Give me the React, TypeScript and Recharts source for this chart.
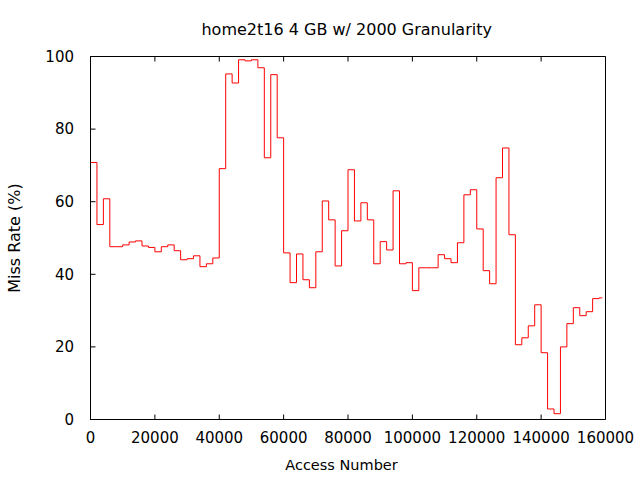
import { Line, LineChart, XAxis, YAxis } from "recharts";

// access number at the start of each 2000-access window (last entry closes the final step)
const accessNumbers = [
  0, 2000, 4000, 6000, 8000, 10000, 12000, 14000, 16000, 18000,
  20000, 22000, 24000, 26000, 28000, 30000, 32000, 34000, 36000, 38000,
  40000, 42000, 44000, 46000, 48000, 50000, 52000, 54000, 56000, 58000,
  60000, 62000, 64000, 66000, 68000, 70000, 72000, 74000, 76000, 78000,
  80000, 82000, 84000, 86000, 88000, 90000, 92000, 94000, 96000, 98000,
  100000, 102000, 104000, 106000, 108000, 110000, 112000, 114000, 116000, 118000,
  120000, 122000, 124000, 126000, 128000, 130000, 132000, 134000, 136000, 138000,
  140000, 142000, 144000, 146000, 148000, 150000, 152000, 154000, 156000, 158000,
  159000
];

// miss rate (%) per window
const missRates = [
  70.8, 53.7, 60.8, 47.6, 47.6, 48.1, 48.9, 49.2, 47.8, 47.4,
  46.2, 47.6, 48.1, 46.5, 44.0, 44.3, 45.1, 42.1, 42.9, 44.5,
  69.1, 95.2, 92.7, 99.1, 98.8, 99.1, 96.9, 72.1, 95.0, 77.6,
  45.9, 37.7, 45.6, 38.5, 36.3, 46.2, 60.2, 55.0, 42.3, 52.0,
  68.8, 54.7, 59.7, 55.0, 42.9, 49.0, 46.7, 63.0, 42.9, 43.2,
  35.5, 41.8, 41.8, 41.8, 45.4, 44.3, 43.2, 48.7, 61.9, 63.3,
  52.5, 41.0, 37.4, 66.6, 74.8, 50.9, 20.6, 22.5, 25.8, 31.6,
  18.4, 2.9, 1.6, 20.0, 26.4, 30.8, 28.6, 29.7, 33.3, 33.5,
  33.5
];

const xTicks = [0, 20000, 40000, 60000, 80000, 100000, 120000, 140000, 160000];
const yTicks = [0, 20, 40, 60, 80, 100];

const data = accessNumbers.map((x, i) => ({ x, rate: missRates[i] }));

const font = "'DejaVu Sans', sans-serif";
const tickStyle = { fill: "#000", fontSize: 15, fontFamily: font };
// mirrored axes only need their tick marks, no labels
const noLabel = () => <g />;

export default function App() {
  return (
    <div style={{ position: "absolute", left: 0, top: 0, width: 640, height: 480, background: "#fff" }}>
      <LineChart
        width={640}
        height={480}
        data={data}
        margin={{ top: 55.5, right: 33.5, bottom: 30.5, left: 0 }}
      >
        <XAxis
          dataKey="x"
          type="number"
          domain={[0, 160000]}
          ticks={xTicks}
          interval={0}
          height={30}
          stroke="#000"
          tickSize={-5}
          tickMargin={17.8}
          tick={tickStyle}
        />
        <XAxis
          xAxisId="top"
          dataKey="x"
          type="number"
          orientation="top"
          domain={[0, 160000]}
          ticks={xTicks}
          interval={0}
          height={1}
          stroke="#000"
          tickSize={-5}
          tick={noLabel}
        />
        <YAxis
          type="number"
          domain={[0, 100]}
          ticks={yTicks}
          interval={0}
          width={90.5}
          stroke="#000"
          tickSize={-5}
          tickMargin={21.5}
          tick={tickStyle}
        />
        <YAxis
          yAxisId="right"
          type="number"
          orientation="right"
          domain={[0, 100]}
          ticks={yTicks}
          interval={0}
          width={1}
          stroke="#000"
          tickSize={-5}
          tick={noLabel}
        />
        <Line
          type="stepAfter"
          dataKey="rate"
          stroke="#ff0000"
          strokeWidth={1}
          dot={false}
          isAnimationActive={false}
        />
      </LineChart>
      <svg
        width={640}
        height={480}
        style={{ position: "absolute", left: 0, top: 0, pointerEvents: "none" }}
      >
        <text x={346.7} y={35} textAnchor="middle" fontFamily={font} fontSize={16} fill="#000">
          home2t16 4 GB w/ 2000 Granularity
        </text>
        <text x={341.5} y={470} textAnchor="middle" fontFamily={font} fontSize={14.5} fill="#000">
          Access Number
        </text>
        <text
          x={19.5}
          y={238}
          textAnchor="middle"
          fontFamily={font}
          fontSize={16}
          fill="#000"
          transform="rotate(-90 19.5 238)"
        >
          Miss Rate (%)
        </text>
      </svg>
    </div>
  );
}
